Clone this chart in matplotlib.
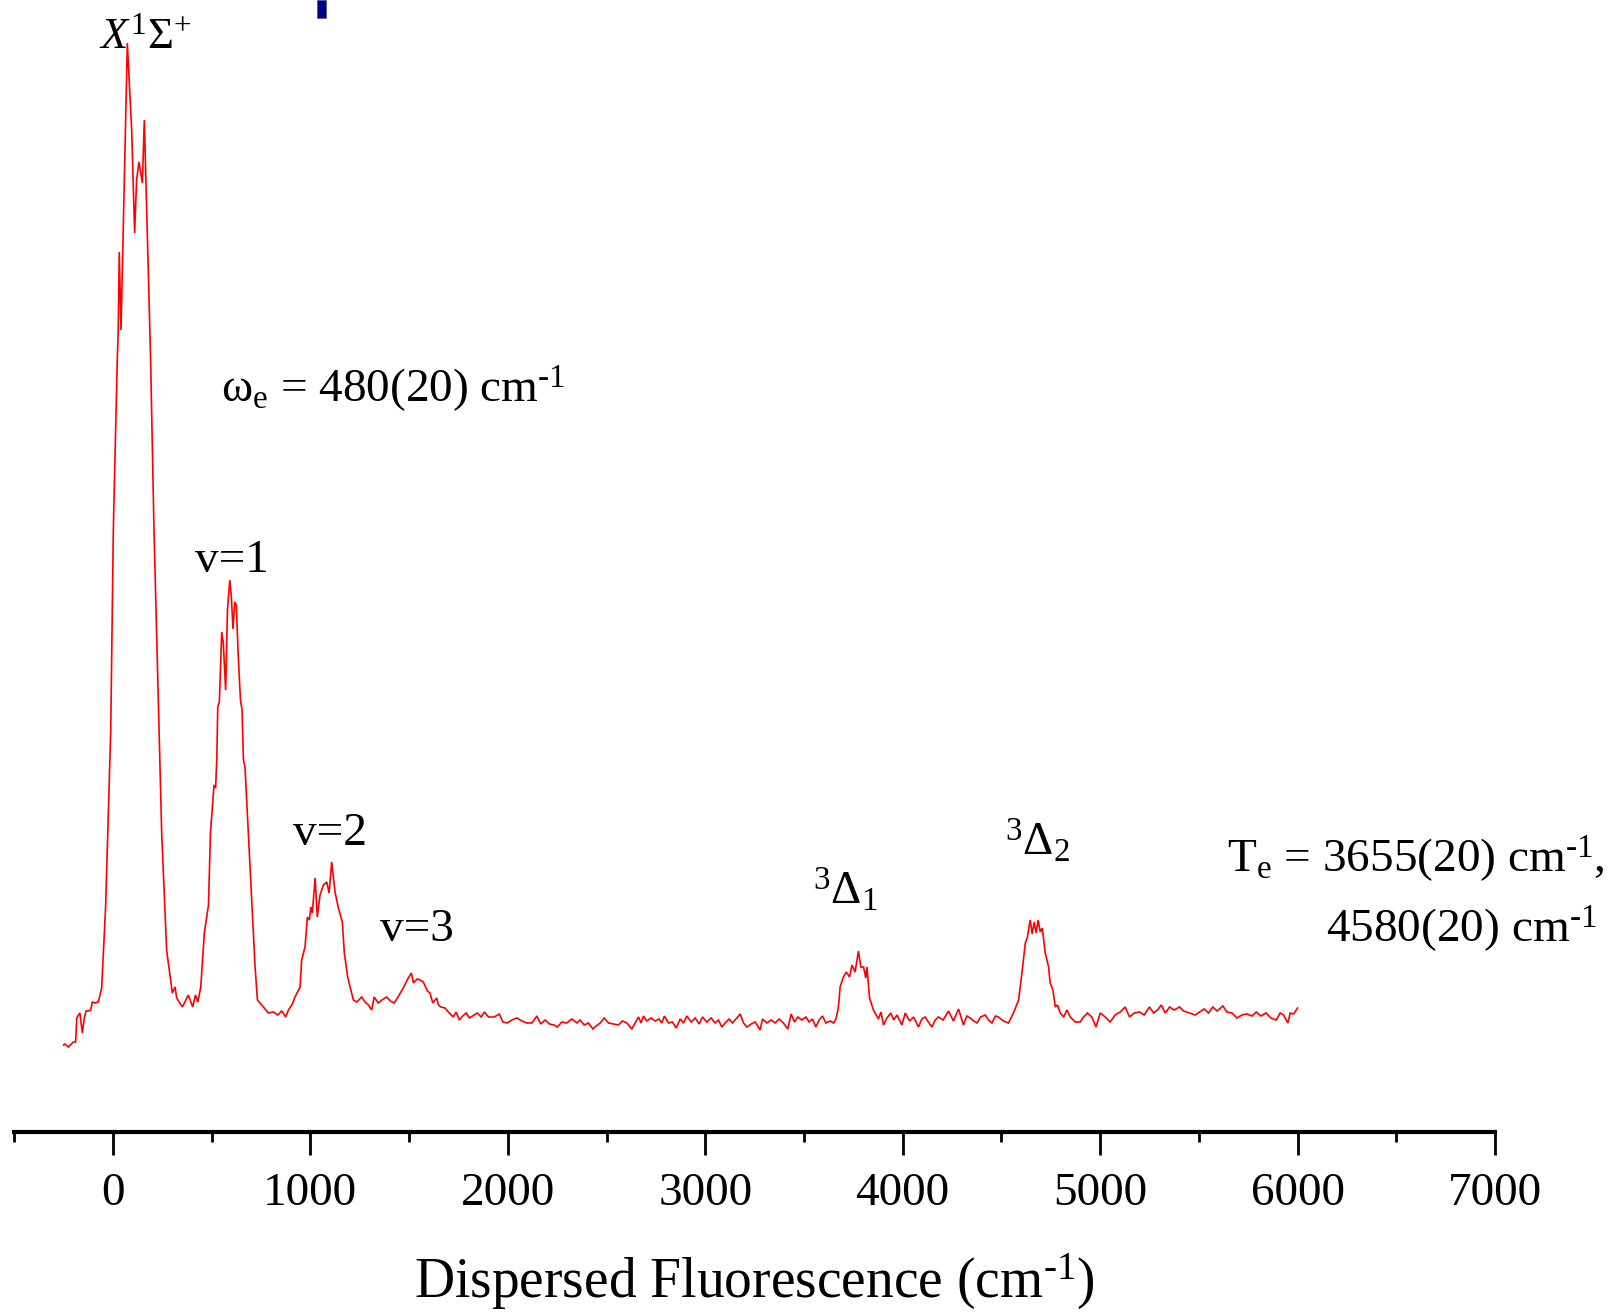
import matplotlib
matplotlib.use("Agg")
import matplotlib.pyplot as plt
from matplotlib.patches import Rectangle
from matplotlib.ticker import MultipleLocator

plt.rcParams['font.family'] = ['Liberation Serif', 'DejaVu Serif']
plt.rcParams['mathtext.fontset'] = 'custom'
plt.rcParams['mathtext.rm'] = 'Liberation Serif'
plt.rcParams['mathtext.it'] = 'Liberation Serif:italic'
plt.rcParams['mathtext.bf'] = 'Liberation Serif:bold'

# Dispersed fluorescence spectrum: shift (cm^-1) and intensity (arb. counts)
shift = [
    -250, -243, -226, -200, -189, -183, -175, -167, -155, -145, -136, -125, -113, -104, -90, -74,
    -57, -37, -11, 2, 22, 27, 32, 41, 73, 95, 110, 120, 132, 149, 159, 176, 191, 208, 234, 247,
    272, 301, 315, 323, 352, 382, 404, 418, 430, 445, 463, 484, 494, 500, 512, 520, 526, 531,
    539, 551, 559, 571, 580, 592, 600, 608, 617, 625, 635, 646, 654, 661, 669, 686, 703, 720,
    732, 754, 787, 813, 835, 855, 875, 889, 909, 922, 948, 956, 973, 985, 995, 1003, 1010,
    1024, 1035, 1049, 1066, 1083, 1095, 1108, 1125, 1142, 1162, 1172, 1189, 1201, 1218, 1235,
    1260, 1277, 1294, 1311, 1323, 1344, 1362, 1386, 1405, 1425, 1444, 1473, 1493, 1512, 1522,
    1541, 1556, 1572, 1593, 1606, 1620, 1632, 1640, 1649, 1661, 1682, 1699, 1724, 1738, 1755,
    1772, 1789, 1806, 1829, 1846, 1865, 1882, 1902, 1931, 1957, 1975, 1998, 2020, 2046, 2071,
    2096, 2122, 2147, 2167, 2189, 2211, 2234, 2251, 2274, 2299, 2324, 2350, 2366, 2387, 2408,
    2431, 2447, 2468, 2488, 2510, 2535, 2560, 2581, 2603, 2628, 2648, 2662, 2675, 2687, 2704,
    2726, 2746, 2766, 2780, 2793, 2814, 2834, 2853, 2873, 2890, 2907, 2929, 2949, 2969, 2986,
    3008, 3030, 3050, 3067, 3084, 3101, 3121, 3138, 3160, 3177, 3194, 3211, 3233, 3253, 3278,
    3290, 3312, 3334, 3354, 3374, 3396, 3418, 3435, 3452, 3469, 3489, 3510, 3526, 3543, 3560,
    3577, 3594, 3611, 3633, 3650, 3662, 3672, 3678, 3683, 3700, 3714, 3731, 3743, 3759, 3776,
    3788, 3802, 3813, 3819, 3832, 3852, 3877, 3890, 3903, 3920, 3940, 3955, 3971, 3996, 4013,
    4035, 4055, 4080, 4097, 4114, 4130, 4148, 4165, 4181, 4205, 4232, 4257, 4270, 4283, 4308,
    4325, 4342, 4360, 4376, 4395, 4418, 4435, 4452, 4470, 4485, 4510, 4536, 4561, 4587, 4604,
    4621, 4632, 4646, 4656, 4666, 4676, 4686, 4697, 4707, 4722, 4739, 4747, 4761, 4773, 4784,
    4798, 4815, 4832, 4849, 4874, 4899, 4916, 4936, 4958, 4979, 5001, 5026, 5051, 5076, 5102,
    5127, 5149, 5173, 5200, 5223, 5250, 5271, 5291, 5310, 5330, 5352, 5375, 5402, 5423, 5453,
    5482, 5504, 5527, 5549, 5571, 5592, 5622, 5642, 5668, 5693, 5718, 5744, 5769, 5791, 5814,
    5841, 5865, 5892, 5912, 5929, 5951, 5963, 5980, 6000,
]
intensity = [
    87, 88, 85, 90, 90, 114, 117, 119, 99, 114, 121, 121, 122, 130, 129, 130,
    144, 225, 402, 602, 772, 802, 880, 802, 1089, 1002, 899, 952, 970, 949, 1012, 885, 772, 602, 402, 299,
    182, 139, 145, 134, 125, 137, 125, 137, 130, 145, 199, 227, 299, 315, 347, 344, 372, 425,
    430, 500, 489, 442, 522, 552, 535, 503, 530, 527, 475, 432, 422, 372, 365, 299, 232, 165,
    132, 127, 119, 120, 117, 121, 115, 122, 128, 135, 145, 172, 185, 215, 212, 225, 219,
    254, 215, 237, 247, 250, 239, 270, 240, 224, 210, 179, 155, 145, 132, 130,
    135, 130, 127, 122, 135, 129, 132, 135, 131, 129, 135, 145, 153, 159, 149,
    153, 152, 150, 141, 139, 129, 132, 134, 127, 125, 124, 120, 115, 120, 112,
    116, 119, 114, 117, 119, 115, 120, 115, 115, 118, 110, 109, 112, 114, 111,
    109, 109, 116, 108, 112, 108, 107, 105, 110, 109, 113, 109, 112, 107, 109,
    103, 106, 109, 114, 109, 108, 107, 111, 109, 103, 110, 115, 109, 116, 111,
    114, 111, 113, 109, 116, 109, 110, 104, 113, 109, 116, 110, 114, 108, 115,
    110, 114, 109, 112, 105, 109, 113, 109, 114, 118, 109, 105, 108, 110, 102,
    113, 109, 112, 109, 113, 109, 103, 118, 110, 115, 112, 115, 110, 113, 105,
    112, 116, 109, 111, 109, 113, 122, 132, 145, 155, 160, 155, 167, 160, 181,
    165, 165, 154, 165, 134, 122, 113, 120, 107, 114, 119, 112, 117, 107, 119,
    111, 115, 105, 113, 115, 110, 105, 112, 115, 112, 121, 111, 117, 123, 107,
    116, 114, 111, 109, 115, 117, 112, 109, 116, 115, 111, 109, 119, 132, 159,
    189, 195, 212, 198, 210, 199, 212, 200, 204, 179, 165, 149, 142, 125, 127,
    119, 115, 122, 115, 110, 110, 115, 119, 115, 105, 119, 115, 110, 117, 120,
    125, 115, 119, 120, 117, 125, 119, 122, 127, 119, 125, 122, 125, 121, 119,
    117, 120, 123, 119, 125, 121, 126, 120, 119, 114, 117, 118, 116, 120, 116,
    119, 114, 112, 119, 117, 109, 119, 118, 124,
]

major_ticks = [0, 1000, 2000, 3000, 4000, 5000, 6000, 7000]
tick_labels = ['0', '1000', '2000', '3000', '4000', '5000', '6000', '7000']

W, H = 1609, 1314
fig = plt.figure(figsize=(W / 100, H / 100), dpi=100)
ax = fig.add_axes([14.2 / W, (H - 1132) / H, (1495 - 14.2) / W, 1132 / H])

ax.plot(shift, intensity, color='#ff0000', lw=1.2, solid_joinstyle='miter')

ax.set_xlim(-500, 7000)
ax.set_ylim(0, 1132)

for side in ('left', 'right', 'top'):
    ax.spines[side].set_visible(False)
ax.spines['bottom'].set_linewidth(3.0)
ax.set_yticks([])
ax.set_xticks(major_ticks)
ax.set_xticklabels(tick_labels)
ax.xaxis.set_minor_locator(MultipleLocator(500))
ax.tick_params(axis='x', which='major', direction='out', length=16.5, width=2.0,
               labelsize=34, pad=13)
ax.tick_params(axis='x', which='minor', direction='out', length=7.5, width=2.0)
ax.set_xlabel(r'Dispersed Fluorescence (cm$^{\text{-1}}$)', fontsize=40, labelpad=26)

fs = 34
ax.text(-72, 1084, r'$\mathit{X}^{\mathregular{1}}\mathregular{\Sigma}^{\mathregular{+}}$',
        fontsize=32, ha='left', va='baseline')
ax.text(548, 730, r'ω$_{\mathregular{e}}$ = 480(20) cm$^{\text{-1}}$',
        fontsize=fs, ha='left', va='baseline')
ax.text(416, 560, 'v=1', fontsize=fs, ha='left', va='baseline')
ax.text(910, 287, 'v=2', fontsize=fs, ha='left', va='baseline')
ax.text(1352, 191, 'v=3', fontsize=fs, ha='left', va='baseline')
ax.text(3547, 228, r'$^{\mathregular{3}}$Δ$_{\mathregular{1}}$', fontsize=fs,
        ha='left', va='baseline')
ax.text(4519, 277, r'$^{\mathregular{3}}$Δ$_{\mathregular{2}}$', fontsize=fs,
        ha='left', va='baseline')
ax.text(7554, 260, r'T$_{\mathregular{e}}$ = 3655(20) cm$^{\text{-1}}$,',
        fontsize=fs, ha='right', va='baseline')
ax.text(7513, 190, r'4580(20) cm$^{\text{-1}}$', fontsize=fs,
        ha='right', va='baseline')

# small navy marker at the top edge
fig.patches.append(Rectangle((317 / W, 1 - 18 / H), 9 / W, 18 / H,
                             transform=fig.transFigure, facecolor='#000080',
                             edgecolor='#4a4aa0', lw=0.5))

fig.savefig('out.png', dpi=100)
